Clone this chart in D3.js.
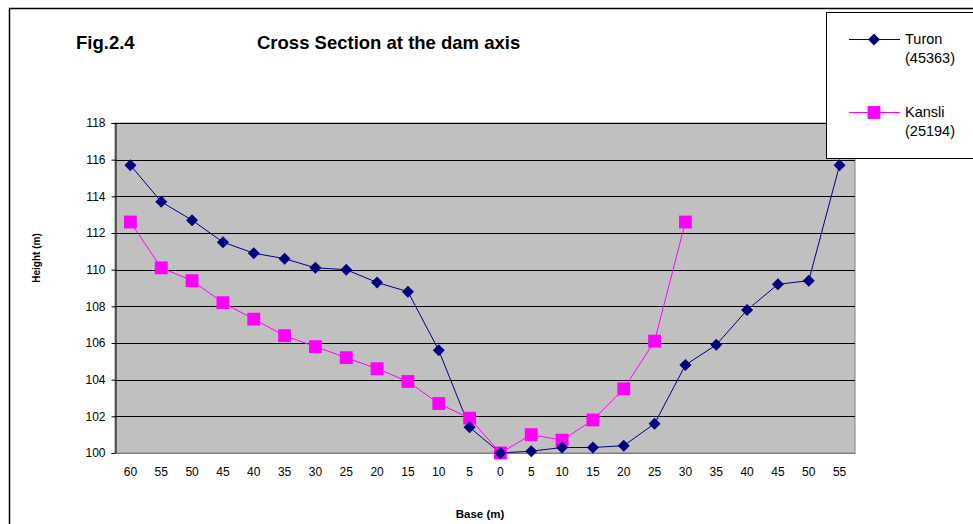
<!DOCTYPE html>
<html>
<head>
<meta charset="utf-8">
<script src="https://cdn.jsdelivr.net/npm/d3@7"></script>
<style>
  body { margin: 0; background: #fff; }
  svg { display: block; font-family: "Liberation Sans", Arial, sans-serif; }
</style>
</head>
<body>
<div id="chart"></div>
<script>
const width = 973;
const height = 524;

// Data.
const baseLabels = ["60", "55", "50", "45", "40", "35", "30", "25", "20", "15", "10", "5",
  "0", "5", "10", "15", "20", "25", "30", "35", "40", "45", "50", "55"];
const turon = [115.7, 113.7, 112.7, 111.5, 110.9, 110.6, 110.1, 110.0, 109.3, 108.8, 105.6, 101.4,
  100.0, 100.1, 100.3, 100.3, 100.4, 101.6, 104.8, 105.9, 107.8, 109.2, 109.4, 115.7];
const kansli = [112.6, 110.1, 109.4, 108.2, 107.3, 106.4, 105.8, 105.2, 104.6, 103.9, 102.7, 101.9,
  100.0, 101.0, 100.7, 101.8, 103.5, 106.1, 112.6, null, null, null, null, null];
const yTicks = [100, 102, 104, 106, 108, 110, 112, 114, 116, 118];

const plot = { left: 115, top: 123, right: 855, bottom: 453 };
const font = "Liberation Sans, Arial, sans-serif";

const svg = d3.select("#chart")
  .append("svg")
  .attr("width", width)
  .attr("height", height);

// outer frame
svg.append("rect")
  .attr("x", 9.5).attr("y", 8.5)
  .attr("width", 980).attr("height", 540)
  .attr("fill", "none")
  .attr("stroke", "#000")
  .attr("stroke-width", 1.5);

const idx = d3.range(baseLabels.length);

const x = d3.scaleBand()
  .domain(idx)
  .range([plot.left, plot.right]);

const y = d3.scaleLinear()
  .domain([100, 118])
  .range([plot.bottom, plot.top]);

const cx = i => x(i) + x.bandwidth() / 2;

// plot area
svg.append("rect")
  .attr("x", plot.left).attr("y", plot.top)
  .attr("width", plot.right - plot.left)
  .attr("height", plot.bottom - plot.top)
  .attr("fill", "#c0c0c0")
  .attr("stroke", "#808080");

// gridlines
svg.append("g")
  .selectAll("line")
  .data(yTicks.filter(t => t > 100))
  .join("line")
  .attr("x1", plot.left).attr("x2", plot.right)
  .attr("y1", d => Math.round(y(d)) + 0.5)
  .attr("y2", d => Math.round(y(d)) + 0.5)
  .attr("stroke", "#000");

// y axis
const yAxis = svg.append("g")
  .attr("transform", `translate(${plot.left + 0.5},0)`)
  .call(d3.axisLeft(y).tickValues(yTicks).tickSize(4).tickPadding(6));
yAxis.select(".domain").attr("stroke", "#000");
yAxis.selectAll("text").attr("font-size", 12).attr("fill", "#000")
  .attr("font-family", font);

// x axis labels
const xAxis = svg.append("g")
  .attr("transform", `translate(0,${plot.bottom})`)
  .call(d3.axisBottom(x).tickSize(0).tickPadding(14).tickFormat(i => baseLabels[i]));
xAxis.select(".domain").attr("stroke", "#808080");
xAxis.selectAll("text").attr("font-size", 12).attr("fill", "#000")
  .attr("font-family", font);

// titles
svg.append("text")
  .attr("x", 76).attr("y", 49)
  .attr("font-size", 18.5).attr("font-weight", "bold")
  .text("Fig.2.4");

svg.append("text")
  .attr("x", 257).attr("y", 49)
  .attr("font-size", 18.5).attr("font-weight", "bold")
  .text("Cross Section at the dam axis");

svg.append("text")
  .attr("transform", "translate(39.5,258) rotate(-90)")
  .attr("text-anchor", "middle")
  .attr("font-size", 10).attr("font-weight", "bold")
  .text("Height (m)");

svg.append("text")
  .attr("x", 480).attr("y", 518)
  .attr("text-anchor", "middle")
  .attr("font-size", 11.5).attr("font-weight", "bold")
  .text("Base (m)");

// lines
const line = d3.line()
  .defined(d => d != null)
  .x((d, i) => cx(i))
  .y(d => y(d));

svg.append("path")
  .attr("d", line(kansli))
  .attr("fill", "none")
  .attr("stroke", "#ff00ff")
  .attr("stroke-width", 1);

svg.append("path")
  .attr("d", line(turon))
  .attr("fill", "none")
  .attr("stroke", "#000080")
  .attr("stroke-width", 1);

const diamond = d3.symbol().type(d3.symbolDiamond2).size(92);
const square = d3.symbol().type(d3.symbolSquare).size(165);

svg.append("g")
  .selectAll("path")
  .data(kansli.map((v, i) => ({ v, i })).filter(d => d.v != null))
  .join("path")
  .attr("d", square)
  .attr("transform", d => `translate(${cx(d.i)},${y(d.v)})`)
  .attr("fill", "#ff00ff");

svg.append("g")
  .selectAll("path")
  .data(turon.map((v, i) => ({ v, i })))
  .join("path")
  .attr("d", diamond)
  .attr("transform", d => `translate(${cx(d.i)},${y(d.v)})`)
  .attr("fill", "#000080");

// legend
const legend = svg.append("g");
legend.append("rect")
  .attr("x", 826.5).attr("y", 12.5)
  .attr("width", 160).attr("height", 146)
  .attr("fill", "#fff")
  .attr("stroke", "#000");

const legendItems = [
  { name: "Turon", code: "(45363)", color: "#000080", sym: diamond, y: 39 },
  { name: "Kansli", code: "(25194)", color: "#ff00ff", sym: square, y: 112 }
];

legendItems.forEach(d => {
  legend.append("line")
    .attr("x1", 849).attr("x2", 900)
    .attr("y1", d.y + 0.5).attr("y2", d.y + 0.5)
    .attr("stroke", d.color);
  legend.append("path")
    .attr("d", d.sym)
    .attr("transform", `translate(874,${d.y + 0.5})`)
    .attr("fill", d.color);
  legend.append("text")
    .attr("x", 905).attr("y", d.y + 5)
    .attr("font-size", 14.5)
    .text(d.name);
  legend.append("text")
    .attr("x", 905).attr("y", d.y + 24)
    .attr("font-size", 14.5)
    .text(d.code);
});
</script>
</body>
</html>
